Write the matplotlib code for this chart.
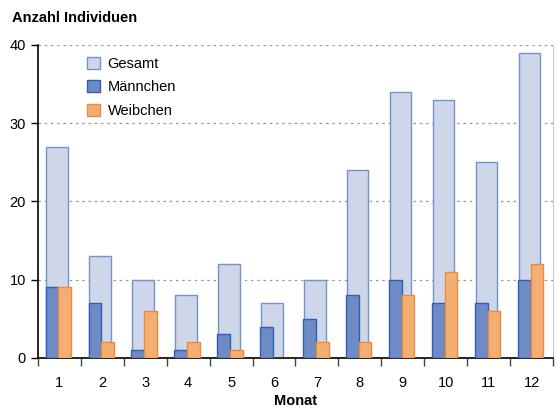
import matplotlib.pyplot as plt
import numpy as np

# === Daten ===
monate = [1, 2, 3, 4, 5, 6, 7, 8, 9, 10, 11, 12]
gesamt = [27, 13, 10, 8, 12, 7, 10, 24, 34, 33, 25, 39]
maennchen = [9, 7, 1, 1, 3, 4, 5, 8, 10, 7, 7, 10]
weibchen = [9, 2, 6, 2, 1, 0, 2, 2, 8, 11, 6, 12]

plt.rcParams['font.family'] = ['Liberation Sans Narrow', 'Liberation Sans', 'DejaVu Sans']

fig = plt.figure(figsize=(5.57, 4.09), dpi=100)
ax = fig.add_axes([0.068, 0.125, 0.925, 0.765])

x = np.array(monate)

# Gesamt hinten, Männchen/Weibchen davor
ax.bar(x - 0.05, gesamt, width=0.5, color='#cdd7e9', edgecolor='#7592cb',
       linewidth=1.0, label='Gesamt', zorder=2)
ax.bar(x - 0.17, maennchen, width=0.3, color='#6e8bc5', edgecolor='#2f5fb2',
       linewidth=1.0, label='Männchen', zorder=3)
ax.bar(x + 0.125, weibchen, width=0.29, color='#f3ae73', edgecolor='#ee8b3b',
       linewidth=1.0, label='Weibchen', zorder=3)

ax.set_xlim(0.5, 12.5)
ax.set_ylim(0, 40)

# Achsen
ax.set_yticks([0, 10, 20, 30, 40])
ax.tick_params(axis='y', labelsize=10.5, length=5, width=1)
ax.set_xticks(x)
ax.set_xticks(np.arange(0.5, 13, 1), minor=True)
ax.tick_params(axis='x', which='major', length=0, labelsize=10.5, pad=13)
ax.tick_params(axis='x', which='minor', length=6, width=1, color='#444444')

for y in [10, 20, 30, 40]:
    ax.axhline(y, color='#999999', linestyle=(0, (2, 3)), linewidth=0.9, zorder=1)

ax.spines['left'].set_linewidth(1.2)
ax.spines['bottom'].set_linewidth(1.2)
ax.spines['top'].set_visible(False)
ax.spines['right'].set_color('#cccccc')

fig.text(0.022, 0.955, 'Anzahl Individuen', fontsize=10.5, fontweight='bold',
         ha='left', va='center')
ax.set_xlabel('Monat', fontsize=10.5, fontweight='bold', labelpad=3)

leg = ax.legend(loc='upper left', bbox_to_anchor=(0.07, 1.005), frameon=False,
                fontsize=10.5, handlelength=0.9, handleheight=0.9,
                labelspacing=0.65, handletextpad=0.5)

fig.savefig('out.png', dpi=100)
